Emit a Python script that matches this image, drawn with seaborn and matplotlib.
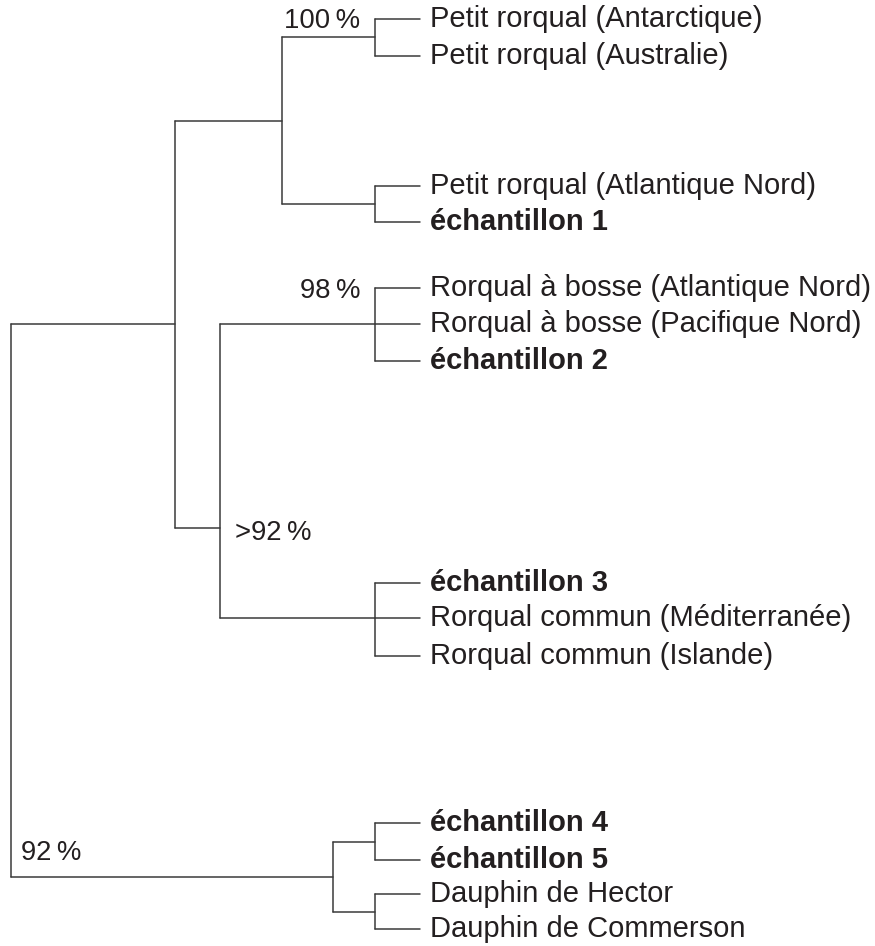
import pandas as pd
import matplotlib.pyplot as plt
import seaborn as sns

# leaves, top to bottom, with their vertical position on the page
leaf_names = [
    'Petit rorqual (Antarctique)',
    'Petit rorqual (Australie)',
    'Petit rorqual (Atlantique Nord)',
    'échantillon 1',
    'Rorqual à bosse (Atlantique Nord)',
    'Rorqual à bosse (Pacifique Nord)',
    'échantillon 2',
    'échantillon 3',
    'Rorqual commun (Méditerranée)',
    'Rorqual commun (Islande)',
    'échantillon 4',
    'échantillon 5',
    'Dauphin de Hector',
    'Dauphin de Commerson',
]
leaf_y = [19, 56, 186, 222, 288, 324, 361, 583, 618, 656, 823, 860, 894, 929]
leaf_bold = [n.startswith('échantillon') for n in leaf_names]
LEAF_X = 420

# internal nodes: children and depth
node_children = {
    'root': ['A', 'dolphins'],
    'A': ['minke', 'B'],
    'minke': ['minke1', 'minke2'],
    'minke1': ['Petit rorqual (Antarctique)', 'Petit rorqual (Australie)'],
    'minke2': ['Petit rorqual (Atlantique Nord)', 'échantillon 1'],
    'B': ['humpback', 'fin'],
    'humpback': ['Rorqual à bosse (Atlantique Nord)', 'Rorqual à bosse (Pacifique Nord)', 'échantillon 2'],
    'fin': ['échantillon 3', 'Rorqual commun (Méditerranée)', 'Rorqual commun (Islande)'],
    'dolphins': ['dolph1', 'dolph2'],
    'dolph1': ['échantillon 4', 'échantillon 5'],
    'dolph2': ['Dauphin de Hector', 'Dauphin de Commerson'],
}
node_x = {
    'root': 11, 'A': 175, 'minke': 282, 'minke1': 375, 'minke2': 375,
    'B': 220, 'humpback': 375, 'fin': 375,
    'dolphins': 333, 'dolph1': 375, 'dolph2': 375,
}
# where the stem meets the node when it is not the middle of the children
node_y_override = {'humpback': 324, 'fin': 618, 'B': 528}

support_labels = ['100\u2009%', '98\u2009%', '>92\u2009%', '92\u2009%']
support_xy = [(360, 21), (360, 291), (235, 533), (21, 853)]
support_ha = ['right', 'right', 'left', 'left']

ypos = dict(zip(leaf_names, leaf_y))
xpos = {n: LEAF_X for n in leaf_names}
xpos.update(node_x)


def node_y(n):
    if n in ypos:
        return ypos[n]
    ys = [node_y(c) for c in node_children[n]]
    y = node_y_override.get(n, (min(ys) + max(ys)) / 2)
    ypos[n] = y
    return y


rows = []
seg = 0
for n, kids in node_children.items():
    ys = [node_y(c) for c in kids]
    rows += [(seg, node_x[n], min(ys)), (seg, node_x[n], max(ys))]
    seg += 1
    for c in kids:
        rows += [(seg, node_x[n], node_y(c)), (seg, xpos[c], node_y(c))]
        seg += 1
segments = pd.DataFrame(rows, columns=['seg', 'x', 'y'])

sns.set_style('white')
plt.rcParams['font.family'] = ['Liberation Sans', 'DejaVu Sans']

fig = plt.figure(figsize=(8.75, 9.46), dpi=100)
ax = fig.add_axes([0, 0, 1, 1])
sns.lineplot(data=segments, x='x', y='y', units='seg', estimator=None,
             sort=False, color='#3a3a3a', linewidth=1.1, ax=ax)

for name, y, bold in zip(leaf_names, leaf_y, leaf_bold):
    ax.text(LEAF_X + 10, y, name, fontsize=21, va='center', ha='left',
            color='#231f20', fontweight='bold' if bold else 'normal')

for lab, (x, y), ha in zip(support_labels, support_xy, support_ha):
    ax.text(x, y, lab, fontsize=19.8, va='center', ha=ha, color='#231f20')

ax.set_xlim(0, 875)
ax.set_ylim(946, 0)
ax.axis('off')
fig.savefig('out.png', dpi=100)
